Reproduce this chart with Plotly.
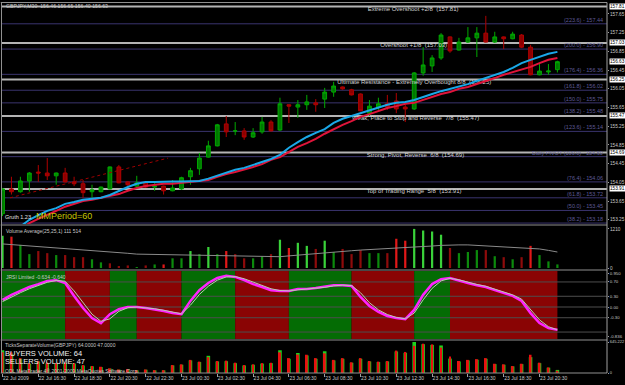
import plotly.graph_objects as go

# ---------------- DATA ----------------
N_BARS = 63  # GBPJPY M30 bars, 22 Jul 14:30 -> 23 Jul 21:30
bar_index = list(range(N_BARS))

time_tick_bars = [0, 4, 8, 12, 16, 20, 24, 28, 32, 36, 40, 44, 48, 52, 56, 60]
time_tick_labels = ["22 Jul 2009", "22 Jul 16:30", "22 Jul 18:30", "22 Jul 20:30",
                    "22 Jul 22:30", "23 Jul 00:30", "23 Jul 02:30", "23 Jul 04:30",
                    "23 Jul 06:30", "23 Jul 08:30", "23 Jul 10:30", "23 Jul 12:30",
                    "23 Jul 14:30", "23 Jul 16:30", "23 Jul 18:30", "23 Jul 20:30"]

opens = [153.38, 153.91, 153.85, 154.08, 154.27, 154.25, 154.19, 154.25, 154.06, 154.02,
         153.85, 153.85, 153.91, 154.38, 154.06, 153.97, 154.04, 153.95, 153.97, 153.87,
         153.91, 154.17, 154.34, 154.59, 154.83, 155.30, 155.15, 155.15, 155.02, 155.13,
         155.34, 155.17, 155.71, 155.66, 155.71, 155.75, 155.83, 155.98, 156.09, 156.03,
         155.94, 155.53, 155.66, 155.73, 155.79, 155.66, 155.62, 156.39, 156.54, 156.71,
         157.16, 156.88, 157.05, 157.14, 157.24, 157.05, 157.16, 157.12, 157.20, 156.94,
         156.35, 156.41, 156.46]
highs = [153.93, 154.17, 154.17, 154.27, 154.42, 154.57, 154.26, 154.36, 154.17, 154.10,
         154.00, 153.96, 154.39, 154.42, 154.07, 154.19, 154.05, 154.06, 153.98, 154.10,
         154.17, 154.36, 154.68, 154.94, 155.30, 155.47, 155.34, 155.21, 155.21, 155.45,
         155.38, 155.86, 155.72, 155.81, 155.92, 155.83, 156.07, 156.20, 156.10, 156.05,
         155.95, 155.81, 155.86, 155.92, 155.96, 155.71, 156.41, 156.94, 156.77, 157.24,
         157.17, 157.14, 157.37, 157.37, 157.61, 157.27, 157.17, 157.27, 157.22, 156.99,
         156.58, 156.58, 156.65]
lows = [153.33, 153.79, 153.83, 153.85, 154.06, 154.10, 154.00, 154.05, 153.97, 153.72,
        153.72, 153.84, 153.90, 154.03, 153.97, 153.95, 153.93, 153.87, 153.79, 153.86,
        153.89, 154.00, 154.21, 154.58, 154.82, 155.02, 155.06, 154.96, 155.00, 155.09,
        155.14, 155.15, 155.32, 155.43, 155.60, 155.56, 155.64, 155.88, 156.03, 155.91,
        155.57, 155.47, 155.60, 155.60, 155.53, 155.34, 155.60, 156.33, 156.41, 156.67,
        156.82, 156.87, 157.03, 156.73, 157.04, 157.03, 156.90, 157.11, 156.92, 156.34,
        156.34, 156.35, 156.40]
closes = [153.91, 153.85, 154.08, 154.25, 154.25, 154.19, 154.25, 154.06, 154.02, 153.83,
          153.89, 153.95, 154.38, 154.04, 154.00, 154.04, 153.95, 153.97, 153.87, 153.93,
          154.15, 154.30, 154.57, 154.83, 155.28, 155.13, 155.15, 155.02, 155.11, 155.34,
          155.15, 155.73, 155.68, 155.71, 155.77, 155.71, 155.98, 156.11, 156.05, 155.92,
          155.58, 155.68, 155.73, 155.66, 155.62, 155.62, 156.39, 156.56, 156.71, 157.20,
          156.86, 157.05, 157.14, 157.24, 157.05, 157.16, 157.12, 157.22, 156.94, 156.35,
          156.43, 156.43, 156.63]

ma_blue = [152.82, 152.97, 153.10, 153.25, 153.35, 153.44, 153.50, 153.59, 153.63, 153.68,
           153.70, 153.72, 153.78, 153.87, 153.95, 154.02, 154.06, 154.06, 154.07, 154.07,
           154.07, 154.07, 154.08, 154.13, 154.19, 154.25, 154.32, 154.36, 154.42, 154.49,
           154.55, 154.64, 154.79, 154.91, 155.02, 155.11, 155.19, 155.32, 155.41, 155.47,
           155.53, 155.60, 155.66, 155.71, 155.75, 155.77, 155.81, 155.88, 155.94, 156.00,
           156.05, 156.11, 156.15, 156.22, 156.28, 156.35, 156.41, 156.50, 156.60, 156.67,
           156.73, 156.80, 156.84]
ma_red = [152.74, 152.91, 153.05, 153.18, 153.27, 153.35, 153.44, 153.53, 153.59, 153.65,
          153.68, 153.72, 153.76, 153.80, 153.87, 153.93, 153.97, 154.00, 154.02, 154.02,
          154.04, 154.06, 154.08, 154.10, 154.17, 154.23, 154.27, 154.32, 154.38, 154.44,
          154.53, 154.59, 154.70, 154.81, 154.89, 154.98, 155.09, 155.19, 155.28, 155.36,
          155.45, 155.51, 155.58, 155.64, 155.68, 155.73, 155.75, 155.81, 155.88, 155.94,
          155.98, 156.05, 156.09, 156.15, 156.22, 156.28, 156.35, 156.41, 156.47, 156.52,
          156.60, 156.67, 156.71]

trend_x = [0.84, 18.5]
trend_y = [153.72, 154.57]

murrey_levels = [157.81, 157.03, 156.25, 155.47, 154.69, 153.91]
murrey_texts = ["Extreme Overshoot +2/8  (157.81)", "Overshoot +1/8  (157.03)",
                "Ultimate Resistance - Extremely Overbought 8/8  (156.25)",
                "Weak, Place to Stop and Reverse  7/8  (155.47)",
                "Strong, Pivot, Reverse  6/8  (154.69)", "Top of Trading Range  5/8  (153.91)"]
murrey_text_bar = [40.8, 42.2, 37.4, 39.05, 40.7, 40.7]

fib_levels = [157.44, 156.90, 156.36, 156.02, 155.75, 155.48, 155.14, 154.60, 154.06, 153.72, 153.45, 153.18]
fib_texts = ["(223.6) - 157.44", "(200.0) - 156.90", "(176.4) - 156.36", "(161.8) - 156.02",
             "(150.0) - 155.75", "(138.2) - 155.48", "(123.6) - 155.14", "Daily PIVOT (100.0) - 154.60",
             "(76.4) - 154.06", "(61.8) - 153.72", "(50.0) - 153.45", "(38.2) - 153.18"]

price_ticks = [157.65, 157.25, 156.85, 156.45, 156.05, 155.65, 155.25, 154.85, 154.45, 154.05, 153.65, 153.25]
price_boxes = [157.81, 157.03, 156.63, 156.25, 155.47, 154.69, 153.91]

volume = [1000, 970, 715, 430, 525, 460, 400, 400, 335, 335, 270, 175, 145, 50, 80, 20, 80, 110, 110, 300,
          300, 525, 430, 650, 430, 525, 430, 300, 300, 365, 430, 875, 620, 780, 685, 590, 845, 495, 590, 430,
          555, 460, 460, 460, 905, 845, 1210, 1160, 1130, 1030, 620, 460, 495, 555, 555, 365, 335, 270, 335, 685,
          400, 205, 111]
volume_kind = ["LG", "R", "G", "G", "DR", "DR", "G", "DR", "DR", "DR", "G", "G", "DR", "DR", "DR", "G", "DR", "G", "R", "G",
               "G", "LG", "G", "LG", "G", "R", "DR", "DR", "G", "G", "DR", "LG", "R", "LG", "LG", "DR", "LG", "G", "DR", "DR",
               "DR", "G", "G", "DR", "R", "R", "LG", "LG", "LG", "LG", "DR", "G", "G", "G", "DR", "G", "DR", "G", "DR", "R",
               "G", "G", "G"]
volume_avg = [745, 725, 705, 685, 670, 650, 630, 610, 590, 570, 555, 530, 505, 480, 455, 430, 425, 418, 410, 405,
              400, 393, 385, 378, 372, 365, 360, 354, 348, 342, 335, 350, 375, 400, 430, 450, 470, 495, 515, 535,
              555, 568, 580, 593, 607, 620, 640, 660, 680, 700, 715, 715, 715, 700, 685, 668, 650, 635, 620, 605,
              590, 545, 495]

jrsi_main = [0.20, 0.34, 0.45, 0.56, 0.64, 0.73, 0.75, 0.67, 0.31, -0.03, -0.31, -0.45, -0.20, -0.06, 0.00, 0.00,
             -0.03, -0.06, -0.11, -0.17, -0.20, 0.17, 0.47, 0.67, 0.81, 0.87, 0.84, 0.75, 0.64, 0.56, 0.47, 0.45,
             0.45, 0.50, 0.50, 0.53, 0.56, 0.61, 0.61, 0.59, 0.28, 0.03, -0.14, -0.25, -0.31, -0.34, -0.08, 0.34,
             0.64, 0.78, 0.81, 0.73, 0.67, 0.61, 0.56, 0.47, 0.39, 0.31, 0.17, -0.17, -0.45, -0.59, -0.634]
jrsi_signal = [0.15, 0.28, 0.40, 0.51, 0.60, 0.69, 0.74, 0.72, 0.45, 0.12, -0.20, -0.40, -0.33, -0.12, -0.02, 0.00,
               -0.02, -0.05, -0.09, -0.15, -0.19, 0.05, 0.35, 0.58, 0.75, 0.84, 0.85, 0.79, 0.69, 0.60, 0.51, 0.46,
               0.45, 0.48, 0.50, 0.52, 0.55, 0.59, 0.61, 0.60, 0.40, 0.12, -0.08, -0.21, -0.29, -0.33, -0.17, 0.20,
               0.52, 0.73, 0.80, 0.76, 0.69, 0.63, 0.58, 0.50, 0.42, 0.34, 0.22, -0.06, -0.36, -0.55, -0.640]
jrsi_levels = [0.7, 0.3, 0.0, -0.3, -0.7]
jrsi_zone_start = [-1, 7, 12, 15, 20, 26, 32, 39, 46, 50]
jrsi_zone_end = [7, 12, 15, 20, 26, 32, 39, 46, 50, 62]
jrsi_zone_state = ["up", "down", "up", "down", "up", "down", "up", "down", "up", "down"]

buyers = [473, 400, 295, 195, 238, 205, 198, 205, 196, 157, 140, 124, 90, 68, 76, 55, 68, 55, 55, 158,
          172, 262, 228, 358, 240, 246, 205, 157, 172, 196, 205, 473, 296, 416, 365, 296, 452, 262, 296, 213,
          296, 240, 228, 240, 448, 420, 645.222, 600, 585, 573, 300, 240, 262, 276, 296, 185, 172, 138, 185, 330,
          205, 110, 64]
sellers = [430, 430, 310, 205, 250, 215, 205, 215, 205, 165, 145, 130, 95, 72, 80, 58, 72, 58, 58, 165,
           180, 273, 237, 330, 250, 258, 215, 165, 180, 205, 215, 430, 310, 385, 380, 310, 410, 273, 310, 223,
           310, 250, 237, 250, 467, 438, 565, 610, 595, 530, 345, 250, 273, 288, 310, 193, 180, 145, 193, 380,
           215, 115, 47]

# ---------------- STYLE ----------------
FONT = "Liberation Sans, Arial, sans-serif"
TXT = "#C8C8C8"
vol_colors = {"LG": "#3AD23A", "G": "#0C8A0C", "DR": "#8E0B0B", "R": "#E01818"}
zone_colors = {"up": "#046C04", "down": "#8A0404"}

W, H = 625, 385
XL, XR = 2, 607
def py(px):
    return 1 - px / H

fig = go.Figure()

# Murrey labels drawn first so candles sit on top of them
fig.add_trace(go.Scatter(x=murrey_text_bar, y=murrey_levels, mode="text", text=murrey_texts,
                         textposition="bottom right",
                         textfont=dict(family=FONT, size=6, color="#D2D2D2"), xaxis="x", yaxis="y"))
# main panel
fig.add_trace(go.Candlestick(
    x=bar_index, open=opens, high=highs, low=lows, close=closes,
    increasing=dict(line=dict(color="#00A800", width=1), fillcolor="#007800"),
    decreasing=dict(line=dict(color="#B00000", width=1), fillcolor="#8B0000"),
    whiskerwidth=0, xaxis="x", yaxis="y", hoverinfo="skip"))
fig.add_trace(go.Scatter(x=trend_x, y=trend_y, mode="lines",
                         line=dict(color="#A00000", width=1, dash="dot"), xaxis="x", yaxis="y"))
fig.add_trace(go.Scatter(x=bar_index, y=ma_red, mode="lines",
                         line=dict(color="#E0143A", width=2), xaxis="x", yaxis="y"))
fig.add_trace(go.Scatter(x=bar_index, y=ma_blue, mode="lines",
                         line=dict(color="#1AA8E8", width=2), xaxis="x", yaxis="y"))

# volume panel
fig.add_trace(go.Bar(x=bar_index, y=volume, width=0.25,
                     marker=dict(color=[vol_colors[k] for k in volume_kind], line=dict(width=0)),
                     xaxis="x2", yaxis="y2"))
fig.add_trace(go.Scatter(x=bar_index, y=volume_avg, mode="lines",
                         line=dict(color="#8A8A8A", width=1), xaxis="x2", yaxis="y2"))

# JRSI panel
fig.add_trace(go.Scatter(x=bar_index, y=jrsi_main, mode="lines",
                         line=dict(color="#FF22FF", width=2.5), xaxis="x3", yaxis="y3"))
fig.add_trace(go.Scatter(x=bar_index, y=jrsi_signal, mode="lines",
                         line=dict(color="#B8CCB0", width=1), xaxis="x3", yaxis="y3"))

# tick volume panel
fig.add_trace(go.Bar(x=bar_index, y=buyers, width=0.4, marker=dict(color="#1ED21E", line=dict(width=0)),
                     xaxis="x4", yaxis="y4"))
fig.add_trace(go.Bar(x=bar_index, y=sellers, width=0.22, marker=dict(color="#E81010", line=dict(width=0)),
                     xaxis="x4", yaxis="y4"))

shapes = []
for lv in fib_levels:
    shapes.append(dict(type="line", xref="x domain", yref="y", x0=0, x1=1, y0=lv, y1=lv,
                       line=dict(color="#3A346E", width=1), layer="below"))
for lv in murrey_levels:
    shapes.append(dict(type="line", xref="x domain", yref="y", x0=0, x1=1, y0=lv, y1=lv,
                       line=dict(color="#B4B4B4", width=2), layer="below"))
for s, e, st in zip(jrsi_zone_start, jrsi_zone_end, jrsi_zone_state):
    shapes.append(dict(type="rect", xref="x3", yref="y3 domain", x0=s, x1=e, y0=0, y1=1,
                       fillcolor=zone_colors[st], line=dict(width=0), layer="below"))
for lv in jrsi_levels:
    shapes.append(dict(type="line", xref="x3 domain", yref="y3", x0=0, x1=1, y0=lv, y1=lv,
                       line=dict(color="#4E4E4E", width=1), layer="below"))
# frame / separators
for ypx in [2.5, 225, 270, 340, 373]:
    shapes.append(dict(type="line", xref="paper", yref="paper", x0=XL / W - 0.002, x1=XR / W,
                       y0=py(ypx), y1=py(ypx), line=dict(color="#909090", width=1)))
shapes.append(dict(type="line", xref="paper", yref="paper", x0=1.5 / W, x1=1.5 / W, y0=py(373), y1=py(2.5),
                   line=dict(color="#909090", width=1)))
shapes.append(dict(type="line", xref="paper", yref="paper", x0=XR / W, x1=XR / W, y0=py(373), y1=py(2.5),
                   line=dict(color="#A0A0A0", width=1)))

ann = []
def A(**kw):
    base = dict(showarrow=False, font=dict(family=FONT, size=5.5, color=TXT))
    base.update(kw)
    ann.append(base)

for lv, t in zip(fib_levels, fib_texts):
    A(x=0.997, y=lv, xref="x domain", yref="y", text=t, xanchor="right", yanchor="bottom", yshift=-1,
      font=dict(family=FONT, size=5.5, color="#5E5A96"))
for lv in price_boxes:
    A(x=(XR + 1.5) / W, y=lv, xref="paper", yref="y", text=f"{lv:.2f}", xanchor="left", yanchor="middle",
      bgcolor="#FFFFFF", borderpad=0, font=dict(family=FONT, size=4.7, color="#000000"))

A(x=4 / W, y=py(6.5), xref="paper", yref="paper", text="GBPJPY,M30  156.46 156.65 156.40 156.63",
  xanchor="left", yanchor="middle", font=dict(family=FONT, size=5.2, color=TXT))
A(x=3 / W, y=py(217), xref="paper", yref="paper", text="Gruth 1.23", xanchor="left", yanchor="middle",
  font=dict(family=FONT, size=5.5, color="#E0E0E0"))
A(x=34 / W, y=py(215.5), xref="paper", yref="paper", text="MMPeriod=60", xanchor="left", yanchor="middle",
  font=dict(family=FONT, size=9, color="#C4C400"))
A(x=4 / W, y=py(231), xref="paper", yref="paper", text="Volume Average(25,25,1) 111 514",
  xanchor="left", yanchor="middle", font=dict(family=FONT, size=5, color=TXT))
A(x=4 / W, y=py(277), xref="paper", yref="paper", text="JRSI Limited -0.634 -0.640",
  xanchor="left", yanchor="middle", font=dict(family=FONT, size=5, color=TXT))
A(x=3 / W, y=py(345), xref="paper", yref="paper", text="TicksSeparateVolume(GBPJPY) 64.0000 47.0000",
  xanchor="left", yanchor="middle", font=dict(family=FONT, size=5, color=TXT))
A(x=3 / W, y=py(353), xref="paper", yref="paper", text="BUYERS VOLUME: 64",
  xanchor="left", yanchor="middle", font=dict(family=FONT, size=7.5, color="#F0F0F0"))
A(x=3 / W, y=py(361), xref="paper", yref="paper", text="SELLERS VOLUME: 47",
  xanchor="left", yanchor="middle", font=dict(family=FONT, size=7.5, color="#F0F0F0"))
A(x=3 / W, y=py(371), xref="paper", yref="paper", text="ODL MetaTrader 4® 2001-2009 MetaQuotes Software Corp.",
  xanchor="left", yanchor="middle", font=dict(family=FONT, size=5, color=TXT))

xdom = [XL / W, XR / W]
xr = [(XL - 2.5) / 8.95, (XR - 2.5) / 8.95]
def xax(show=False, anchor="y"):
    d = dict(domain=xdom, range=xr, showgrid=False, zeroline=False, showline=False,
             showticklabels=False, ticks="", anchor=anchor, automargin=False, fixedrange=True)
    if show:
        d.update(showticklabels=True, tickvals=time_tick_bars, ticktext=time_tick_labels,
                 ticklabelposition="outside right", ticks="outside", ticklen=3, tickcolor="#A0A0A0",
                 tickangle=0, tickfont=dict(family=FONT, size=5, color=TXT))
    return d
def yax(dom, rng, tv, tt, anchor, fs=4.7):
    return dict(domain=[py(dom[1]), py(dom[0])], range=rng, side="right", showgrid=False, zeroline=False,
                showline=False, tickvals=tv, ticktext=tt, ticks="outside", ticklen=1, tickcolor="#A0A0A0",
                tickfont=dict(family=FONT, size=fs, color=TXT), anchor=anchor, automargin=False,
                fixedrange=True)

fig.update_layout(
    width=W, height=H, template="none", showlegend=False, hovermode=False,
    paper_bgcolor="#000000", plot_bgcolor="#000000",
    margin=dict(l=0, r=0, t=0, b=0, pad=0),
    barmode="overlay", boxgap=0.4,
    xaxis=dict(xax(anchor="y"), rangeslider=dict(visible=False)),
    xaxis2=dict(xax(anchor="y2"), matches="x"),
    xaxis3=dict(xax(anchor="y3"), matches="x"),
    xaxis4=dict(xax(show=True, anchor="y4"), matches="x"),
    yaxis=yax([3, 224], [153.16, 157.885], price_ticks, [f"{v:.2f}" for v in price_ticks], "x"),
    yaxis2=yax([226, 268], [0, 1300], [0, 1210], ["0", "1210"], "x2"),
    yaxis3=yax([271, 339], [-0.894, 1.006], [0.95, 0.7, 0.3, 0.0, -0.3, -0.836],
               ["0.950", "0.70", "0.30", "0.00", "-0.30", "-0.836"], "x3", fs=4.3),
    yaxis4=yax([341, 373], [0, 666], [0, 645.222], ["0", "645.222"], "x4", fs=4.0),
    shapes=shapes, annotations=ann,
)

fig.write_html("out.html", config={"displayModeBar": False})
